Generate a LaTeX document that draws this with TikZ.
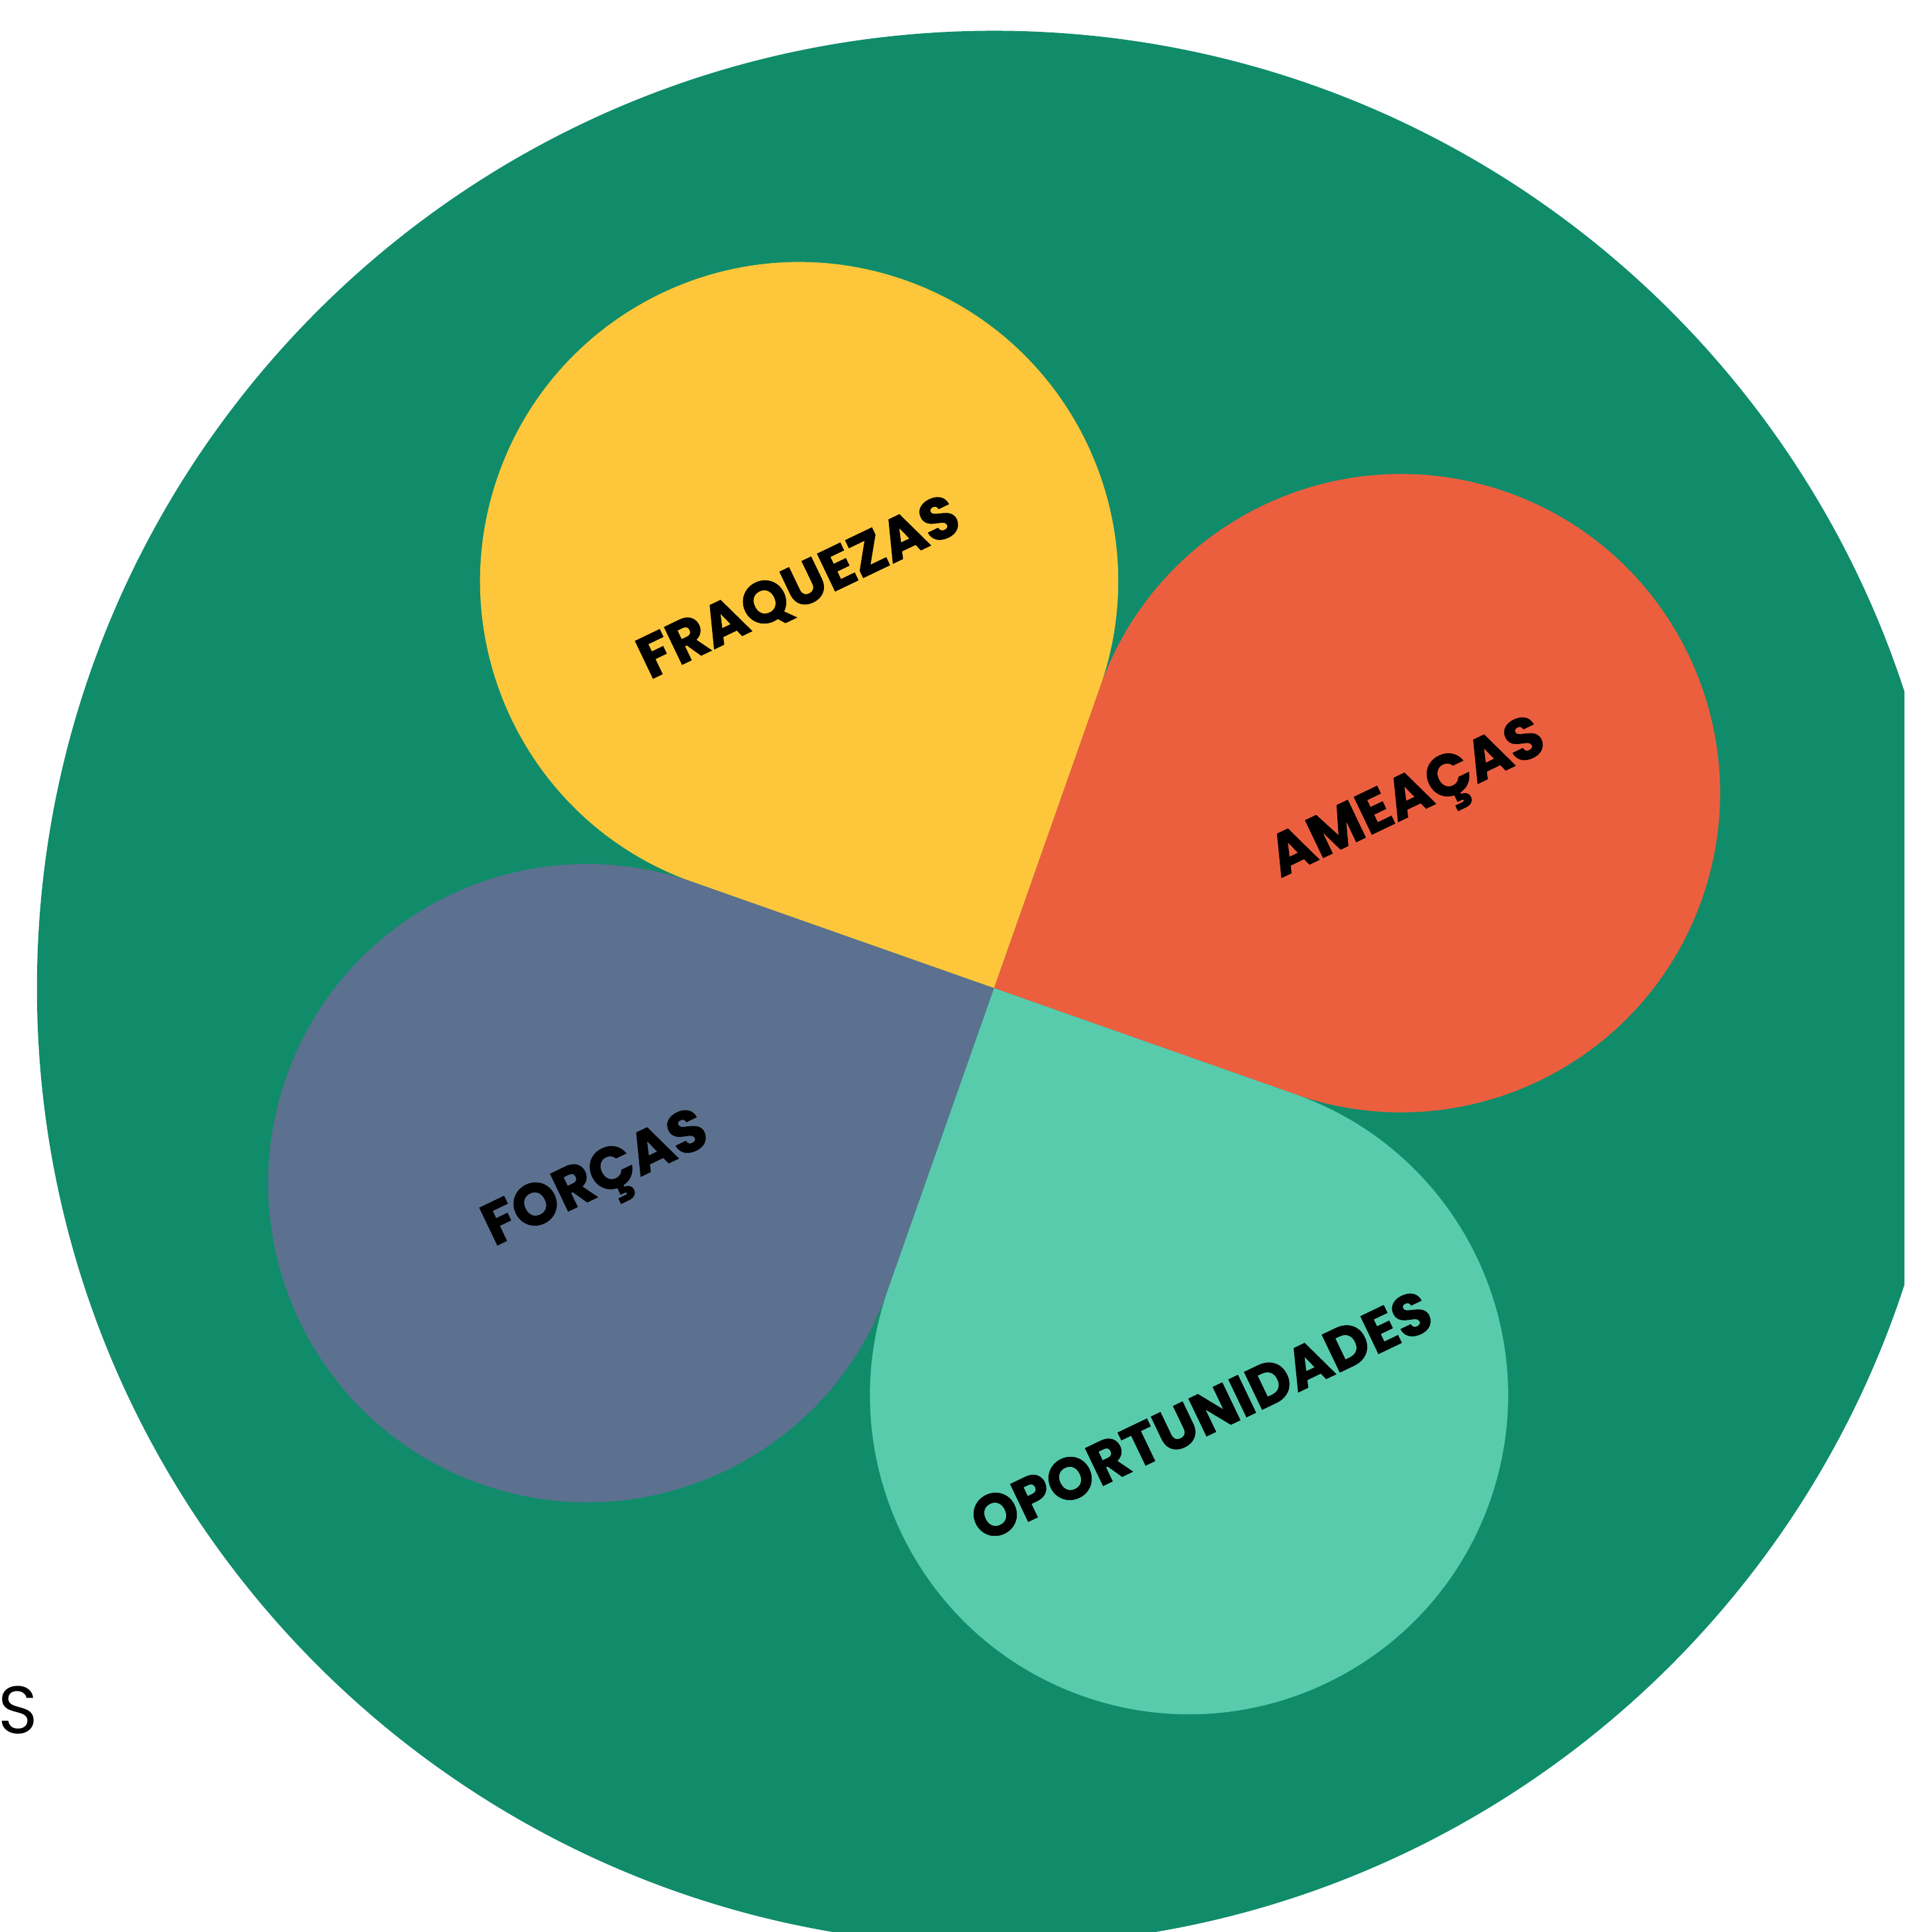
\documentclass[tikz,border=0pt]{standalone}
\usepackage{fontspec}
\setmainfont{Poppins}
\newfontfamily\petalfont{Poppins}[BoldFeatures={FakeBold=1.2}]
\definecolor{swotgreen}{HTML}{108C6B}
\definecolor{fraqyellow}{HTML}{FEC73B}
\definecolor{ameared}{HTML}{EB5F3F}
\definecolor{forcblue}{HTML}{5B718F}
\definecolor{opteal}{HTML}{58CBAD}
\begin{document}
\begin{tikzpicture}[
    petaltext/.style={font=\fontsize{13.6}{13.6}\selectfont\petalfont\bfseries, rotate=25.6, inner sep=0pt},
    cuttext/.style={font=\fontsize{15.5}{15.5}\selectfont, inner sep=0pt}]
    \useasboundingbox (0, 0) rectangle (15.46, 15.68);
    \clip (0, 0) rectangle (15.46, 15.68);
    \coordinate (mid) at (8.07, 7.66);
    \fill[swotgreen] (mid) circle (7.77);
    \fill[fraqyellow] (mid) -- ++(70.6:2.59) arc[start angle=-19.4, end angle=250.6, radius=2.59] -- cycle;
    \fill[ameared] (mid) -- ++(-19.4:2.59) arc[start angle=-109.4, end angle=160.6, radius=2.59] -- cycle;
    \fill[forcblue] (mid) -- ++(160.6:2.59) arc[start angle=70.6, end angle=340.6, radius=2.59] -- cycle;
    \fill[opteal] (mid) -- ++(250.6:2.59) arc[start angle=160.6, end angle=430.6, radius=2.59] -- cycle;
    \node[petaltext] (fraq) at (6.49, 10.90) {FRAQUEZAS};
    \node[petaltext] (amea) at (11.44, 9.17) {AMEAÇAS};
    \node[petaltext] (forc) at (4.85, 6.08) {FORÇAS};
    \node[petaltext] (opor) at (9.75, 4.19) {OPORTUNIDADES};
    \node[cuttext, anchor=base east] (cuttop) at (0.015, 15.03) {O};
    \node[cuttext, anchor=base east] (cutmid) at (0.03, 4.49) {O};
    \node[cuttext, anchor=base west] (cutS) at (-0.02, 1.61) {S};
\end{tikzpicture}
\end{document}
